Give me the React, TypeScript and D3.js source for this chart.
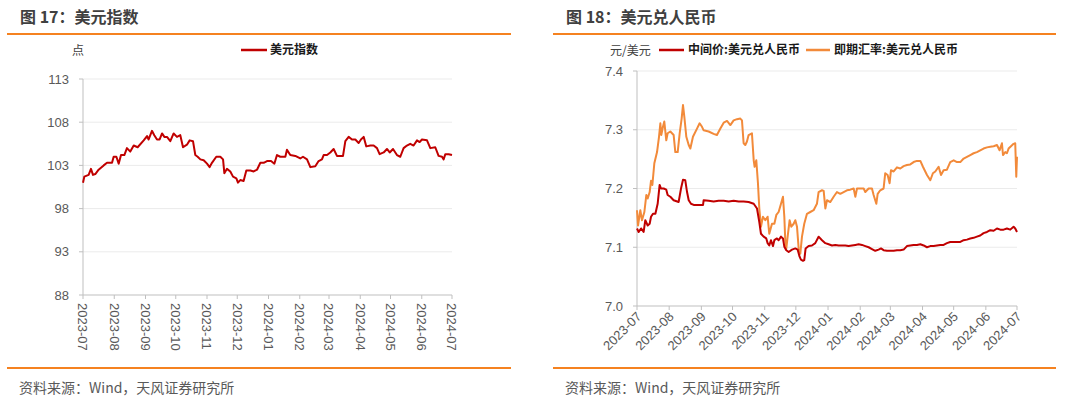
import React from 'react';
import * as d3 from 'd3';

// month ticks shared by both panels
const MONTHS = [
  '2023-07', '2023-08', '2023-09', '2023-10', '2023-11', '2023-12',
  '2024-01', '2024-02', '2024-03', '2024-04', '2024-05', '2024-06', '2024-07',
];
const DXY_TICKS = [88, 93, 98, 103, 108, 113];
const CNY_TICKS = [7.0, 7.1, 7.2, 7.3, 7.4];

// [days since 2023-07-01, value]
const dxySeries: [number, number][] = [
  [0, 101.0], [1.3, 101.7], [5.6, 101.9], [7.9, 102.6], [9.9, 101.9], [12.2, 102.0], [15.5, 102.5],
  [20.5, 103.0], [23.8, 103.3], [28.8, 103.3], [30.4, 104.0], [33.1, 104.0], [35.4, 103.2], [37.7, 104.2],
  [41, 104.2], [43.6, 105.0], [46.9, 104.6], [50.3, 105.3], [54.2, 105.1], [60.2, 105.9], [63.5, 106.4],
  [65.1, 106.0], [68.4, 107.0], [70.7, 106.5], [73.4, 106.0], [76, 106.0], [78.4, 106.7], [80.7, 106.3],
  [83.3, 106.3], [86.6, 105.8], [89.9, 106.7], [93.2, 106.3], [96.5, 106.5], [99.2, 105.1], [103.1, 105.4],
  [105.8, 105.9], [109.1, 105.8], [111.4, 104.2], [113.7, 104.0], [116.4, 103.7], [119.7, 103.6], [123, 103.2],
  [125.6, 102.8], [127.9, 103.3], [132.2, 104.0], [136.2, 104.0], [138.9, 103.7], [140.2, 102.1], [142.8, 102.6],
  [146.1, 102.3], [148.8, 101.7], [152.1, 101.5], [153.7, 101.0], [156, 101.3], [159.3, 101.2], [162, 102.4],
  [166, 102.4], [169.3, 102.3], [172.6, 102.5], [175.9, 103.3], [179.2, 103.3], [182.5, 103.5], [186.5, 103.5],
  [189.8, 103.2], [192.4, 104.2], [195.7, 104.0], [200.7, 104.0], [202.3, 104.8], [205.6, 104.2], [210.6, 104.1],
  [215.5, 103.8], [218.2, 104.0], [222.2, 103.7], [225.5, 102.8], [230.4, 102.9], [233.7, 103.5], [237, 103.7],
  [238.7, 104.2], [242, 104.2], [245.3, 104.5], [248.6, 104.9], [251.9, 104.1], [257.9, 104.1], [260.2, 105.8],
  [263.5, 106.3], [266.8, 106.0], [270.1, 106.0], [273.4, 105.6], [275.7, 106.0], [278.4, 106.3], [281, 105.2],
  [285, 105.3], [288.3, 105.3], [291.6, 105.0], [294.2, 104.3], [298.2, 104.5], [301.5, 104.9], [304.2, 104.5],
  [307.5, 104.9], [311.4, 104.2], [314.7, 104.0], [318, 105.0], [321.3, 105.3], [324.6, 105.5], [327.9, 105.3],
  [331.3, 105.9], [333.9, 105.7], [336.2, 106.0], [341.2, 105.9], [344.5, 105.0], [349.4, 105.1], [352.7, 104.1],
  [356.1, 104.0], [357.7, 103.7], [359.4, 104.3], [362.7, 104.3], [366, 104.2],
];

const midSeries: [number, number][] = [
  [0, 7.132], [1.6, 7.126], [3.9, 7.132], [6.4, 7.126], [8, 7.146], [10.3, 7.137], [12.2, 7.14], [13.5, 7.152],
  [15.4, 7.157], [17.7, 7.157], [19.9, 7.174], [21.8, 7.206], [23.1, 7.2], [25.7, 7.2], [28.2, 7.198],
  [29.5, 7.189], [32.1, 7.186], [35.3, 7.18], [40.1, 7.177], [42.4, 7.2], [44.3, 7.215], [46.5, 7.214],
  [48.2, 7.194], [49.8, 7.18], [52, 7.174], [54.6, 7.172], [59.4, 7.172], [63.6, 7.172], [64.2, 7.18],
  [69, 7.179], [73.8, 7.178], [78.6, 7.179], [83.5, 7.179], [88.3, 7.178], [93.1, 7.179], [97.9, 7.178],
  [102.7, 7.178], [107.5, 7.177], [112.4, 7.174], [115.6, 7.166], [117.8, 7.143], [119.4, 7.123], [122, 7.118],
  [124.5, 7.115], [125.8, 7.107], [127.4, 7.103], [129, 7.112], [131, 7.102], [132.3, 7.112], [134.8, 7.115],
  [136.4, 7.112], [138.7, 7.118], [140.6, 7.115], [141.9, 7.101], [143.8, 7.095], [146.1, 7.092], [149.3, 7.096],
  [152.5, 7.098], [154.7, 7.096], [156.6, 7.084], [157.9, 7.079], [159.9, 7.077], [161.1, 7.078], [162.4, 7.098],
  [165.3, 7.102], [168.5, 7.103], [171.7, 7.107], [174.9, 7.118], [178.2, 7.112], [181.4, 7.107], [184.6, 7.105],
  [187.8, 7.103], [191, 7.104], [194.2, 7.103], [197.4, 7.103], [200.6, 7.103], [203.8, 7.102], [207, 7.103],
  [210.3, 7.104], [213.5, 7.105], [216.7, 7.104], [219.9, 7.102], [223.1, 7.1], [226.3, 7.097], [229.5, 7.094],
  [232.7, 7.096], [235, 7.098], [237.5, 7.095], [240.8, 7.094], [244, 7.094], [247.2, 7.094], [250.4, 7.095],
  [253.6, 7.095], [256.8, 7.096], [260, 7.102], [263.2, 7.103], [266.4, 7.104], [269.6, 7.104], [272.9, 7.105],
  [276.1, 7.103], [279.3, 7.1], [282.5, 7.102], [285.7, 7.102], [288.9, 7.103], [292.1, 7.104], [295.3, 7.104],
  [298.5, 7.107], [301.7, 7.109], [305, 7.109], [308.2, 7.109], [311.4, 7.109], [314.6, 7.112], [317.8, 7.113],
  [321, 7.115], [324.2, 7.116], [327.4, 7.118], [330.6, 7.12], [333.8, 7.124], [337.1, 7.126], [340.3, 7.129],
  [343.5, 7.128], [346.7, 7.132], [349.9, 7.13], [353.1, 7.13], [356.3, 7.132], [359.5, 7.13], [362.7, 7.135],
  [364.3, 7.132], [366, 7.126],
];

const spotSeries: [number, number][] = [
  [0, 7.163], [1, 7.137], [3.2, 7.163], [4.8, 7.146], [7.1, 7.16], [9, 7.189], [10.3, 7.183], [12.2, 7.194],
  [13.5, 7.213], [14.8, 7.206], [16.7, 7.243], [19.3, 7.262], [21.2, 7.288], [22.5, 7.311], [23.4, 7.291],
  [25, 7.305], [26.3, 7.314], [28.2, 7.282], [29.5, 7.294], [32.1, 7.297], [35.3, 7.291], [36.9, 7.262],
  [39.2, 7.262], [41.1, 7.294], [43, 7.319], [44.3, 7.342], [45.6, 7.322], [47.5, 7.288], [49.8, 7.274],
  [51.4, 7.268], [53.9, 7.288], [57.8, 7.302], [60.3, 7.311], [62.6, 7.305], [64.2, 7.299], [69, 7.297],
  [73.8, 7.293], [77, 7.291], [80.3, 7.302], [83.5, 7.312], [86.7, 7.315], [89.9, 7.308], [93.1, 7.316],
  [96.3, 7.318], [99.5, 7.319], [101.1, 7.316], [102.7, 7.277], [104.3, 7.274], [105.9, 7.28], [107.5, 7.291],
  [110.7, 7.294], [112.4, 7.248], [113.3, 7.237], [114.9, 7.248], [116.5, 7.209], [117.8, 7.166], [119.4, 7.135],
  [121.3, 7.152], [123.6, 7.146], [125.8, 7.152], [127.4, 7.123], [130, 7.14], [132.3, 7.14], [134.2, 7.155],
  [136.4, 7.16], [138.7, 7.174], [140.6, 7.186], [141.9, 7.152], [142.8, 7.112], [143.8, 7.098], [145.1, 7.118],
  [147, 7.146], [148.6, 7.135], [150.9, 7.14], [152.5, 7.146], [154.1, 7.135], [155.7, 7.098], [157.3, 7.089],
  [158.9, 7.118], [161.1, 7.14], [163.7, 7.157], [166.9, 7.16], [170.1, 7.163], [173.3, 7.174], [174.9, 7.194],
  [178.2, 7.197], [179.8, 7.196], [181.4, 7.166], [183, 7.18], [186.2, 7.177], [189.4, 7.186], [192.6, 7.194],
  [195.8, 7.191], [199, 7.194], [202.2, 7.197], [205.4, 7.198], [208.7, 7.2], [210.3, 7.186], [211.9, 7.2],
  [215.1, 7.2], [218.3, 7.2], [219.9, 7.194], [223.1, 7.2], [226.3, 7.2], [227.9, 7.189], [230.5, 7.174],
  [231.8, 7.191], [234.3, 7.197], [237.5, 7.2], [239.1, 7.226], [241.4, 7.223], [243.3, 7.209], [244.6, 7.231],
  [247.2, 7.229], [250.4, 7.236], [253.6, 7.234], [256.8, 7.238], [260, 7.24], [263.2, 7.241], [266.4, 7.245],
  [269.6, 7.247], [272.9, 7.247], [275.4, 7.237], [279.3, 7.223], [282.5, 7.214], [285, 7.226], [287.3, 7.229],
  [290.5, 7.237], [292.8, 7.223], [295.3, 7.231], [298.5, 7.232], [301.7, 7.245], [305, 7.248], [308.2, 7.245],
  [311.4, 7.245], [314.6, 7.251], [317.8, 7.254], [321, 7.257], [324.2, 7.26], [327.4, 7.262], [330.6, 7.265],
  [333.8, 7.268], [337.1, 7.27], [340.3, 7.271], [343.5, 7.272], [346.7, 7.274], [349.2, 7.265], [351.5, 7.277],
  [352.5, 7.257], [354.7, 7.262], [356.3, 7.26], [357.9, 7.268], [360.2, 7.272], [362.7, 7.276], [364.3, 7.277],
  [365.3, 7.22], [366, 7.254],
];

const START = new Date(2023, 6, 1);
const END = new Date(2024, 6, 1);
const dayToDate = (d: number) => new Date(START.getTime() + d * 86400000);
const parseMonth = d3.timeParse('%Y-%m');

const RED = '#C00000';
const ORANGE = '#F28A3A';
const RULE = '#F58220';
const CJK = '"Noto Sans CJK SC", "Noto Sans", sans-serif';
const NUM = '"Liberation Sans", Arial, sans-serif';

type Frame = { x0: number; x1: number; y0: number; y1: number };

function Axes({ f, x, y, yTicks, fmt, rotate }: {
  f: Frame; x: d3.ScaleTime<number, number>; y: d3.ScaleLinear<number, number>;
  yTicks: number[]; fmt: (v: number) => string; rotate: 'down' | 'diag';
}) {
  const months = MONTHS.map((m) => parseMonth(m) as Date);
  return (
    <g>
      {yTicks.map((t) => (
        <g key={t}>
          {t !== yTicks[0] && (
            <line x1={f.x0} x2={f.x1} y1={y(t)} y2={y(t)} stroke="#ebebeb" strokeWidth={1} />
          )}
          <line x1={f.x0 - 4} x2={f.x0} y1={y(t)} y2={y(t)} stroke="#bfbfbf" />
          <text x={f.x0 - 14} y={y(t)} dy="0.36em" textAnchor="end" fontFamily={NUM} fontSize={13} fill="#595959">
            {fmt(t)}
          </text>
        </g>
      ))}
      <line x1={f.x0} x2={f.x0} y1={f.y0} y2={f.y1} stroke="#bfbfbf" />
      <line x1={f.x0} x2={f.x1} y1={f.y1} y2={f.y1} stroke="#bfbfbf" />
      {months.map((m, i) => {
        const px = x(m);
        return (
          <g key={MONTHS[i]}>
            <line x1={px} x2={px} y1={f.y1} y2={f.y1 + 4} stroke="#bfbfbf" />
            {rotate === 'down' ? (
              <text transform={`translate(${px},${f.y1 + 8}) rotate(90)`} dy="0.36em"
                fontFamily={NUM} fontSize={13} fill="#595959">{MONTHS[i]}</text>
            ) : (
              <text transform={`translate(${px + 2},${f.y1 + 8}) rotate(-45)`} dy="0.36em" textAnchor="end"
                fontFamily={NUM} fontSize={13} fill="#595959">{MONTHS[i]}</text>
            )}
          </g>
        );
      })}
    </g>
  );
}

function Header({ x0, x1, title }: { x0: number; x1: number; title: string }) {
  return (
    <g>
      <text x={x0 + 13} y={23} fontFamily={CJK} fontSize={16} fontWeight="bold" fill="#404040">{title}</text>
      <line x1={x0} x2={x1} y1={34} y2={34} stroke={RULE} strokeWidth={2} />
      <line x1={x0} x2={x1} y1={368} y2={368} stroke={RULE} strokeWidth={2} />
      <text x={x0 + 12} y={393} fontFamily={CJK} fontSize={14} fill="#595959">资料来源：Wind，天风证券研究所</text>
    </g>
  );
}

export default function App() {
  const fL: Frame = { x0: 83, x1: 452, y0: 79, y1: 295 };
  const xL = d3.scaleTime().domain([START, END]).range([fL.x0, fL.x1]);
  const yL = d3.scaleLinear().domain([88, 113]).range([fL.y1, fL.y0]);

  const fR: Frame = { x0: 637, x1: 1017, y0: 71, y1: 306 };
  const xR = d3.scaleTime().domain([START, END]).range([fR.x0, fR.x1]);
  const yR = d3.scaleLinear().domain([7.0, 7.4]).range([fR.y1, fR.y0]);

  const lineL = d3.line<[number, number]>().x((d) => xL(dayToDate(d[0]))).y((d) => yL(d[1]));
  const lineR = d3.line<[number, number]>().x((d) => xR(dayToDate(d[0]))).y((d) => yR(d[1]));

  return (
    <div style={{ position: 'fixed', left: 0, top: 0 }}>
      <svg width={1080} height={396} style={{ display: 'block', background: '#fff' }}>
        {/* left panel */}
        <Header x0={7} x1={511} title="图 17：美元指数" />
        <text x={72} y={55} fontFamily={CJK} fontSize={12} fill="#404040">点</text>
        <line x1={241} x2={267} y1={50} y2={50} stroke={RED} strokeWidth={2.5} />
        <text x={270} y={54} fontFamily={CJK} fontSize={12} fontWeight="bold" fill="#1a1a1a">美元指数</text>
        <Axes f={fL} x={xL} y={yL} yTicks={DXY_TICKS} fmt={(v) => String(v)} rotate="down" />
        <path d={lineL(dxySeries) || ''} fill="none" stroke={RED} strokeWidth={2} strokeLinejoin="round" />

        {/* right panel */}
        <Header x0={553} x1={1056} title="图 18：美元兑人民币" />
        <text x={610} y={55} fontFamily={CJK} fontSize={12} fill="#404040">元/美元</text>
        <line x1={659} x2={684} y1={50} y2={50} stroke={RED} strokeWidth={2.5} />
        <text x={688} y={54} fontFamily={CJK} fontSize={12} fontWeight="bold" fill="#1a1a1a">中间价:美元兑人民币</text>
        <line x1={806} x2={830} y1={50} y2={50} stroke={ORANGE} strokeWidth={2.5} />
        <text x={834} y={54} fontFamily={CJK} fontSize={12} fontWeight="bold" fill="#1a1a1a">即期汇率:美元兑人民币</text>
        <Axes f={fR} x={xR} y={yR} yTicks={CNY_TICKS} fmt={(v) => v.toFixed(1)} rotate="diag" />
        <path d={lineR(spotSeries) || ''} fill="none" stroke={ORANGE} strokeWidth={2} strokeLinejoin="round" />
        <path d={lineR(midSeries) || ''} fill="none" stroke={RED} strokeWidth={2} strokeLinejoin="round" />
      </svg>
    </div>
  );
}
